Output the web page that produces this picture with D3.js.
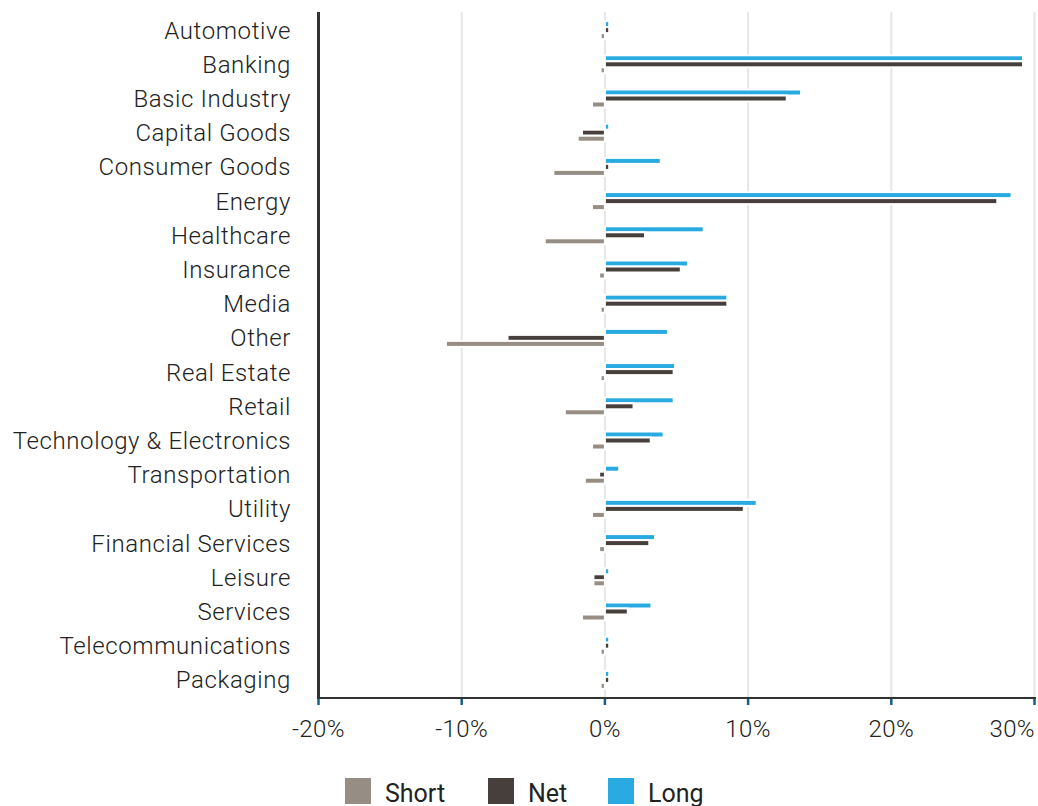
<!DOCTYPE html>
<html>
<head>
<meta charset="utf-8">
<script src="https://cdn.jsdelivr.net/npm/d3@7"></script>
<style>
  html, body { margin: 0; padding: 0; background: #fff; }
  svg { display: block; font-family: Roboto, "Noto Sans", sans-serif; }
</style>
</head>
<body>
<svg id="chart" width="1038" height="806"></svg>
<script>
const categories = ["Automotive","Banking","Basic Industry","Capital Goods","Consumer Goods","Energy","Healthcare","Insurance","Media","Other","Real Estate","Retail","Technology & Electronics","Transportation","Utility","Financial Services","Leisure","Services","Telecommunications","Packaging"];
const longValues  = [0.3, 29.2, 13.7, 0.3, 3.9, 28.4, 6.9, 5.8, 8.55, 4.4, 4.9, 4.8, 4.1, 1.0, 10.6, 3.5, 0.3, 3.25, 0.3, 0.3];
const netValues   = [0.3, 29.2, 12.7, -1.6, 0.3, 27.4, 2.8, 5.3, 8.55, -6.8, 4.8, 2.0, 3.2, -0.4, 9.7, 3.1, -0.8, 1.6, 0.3, 0.3];
const shortValues = [-0.3, -0.3, -0.9, -1.9, -3.6, -0.9, -4.2, -0.4, -0.3, -11.1, -0.3, -2.8, -0.9, -1.4, -0.9, -0.4, -0.8, -1.6, -0.3, -0.3];
const xTicks = [-20, -10, 0, 10, 20, 30];
const seriesNames = ["Short", "Net", "Long"];
const seriesColors = ["#968d84", "#463f3b", "#29abe2"];

const svg = d3.select("#chart");
const x = d3.scaleLinear().domain([-20, 30]).range([318.5, 1034.5]);
const y = d3.scaleBand().domain(categories).range([13, 697]);

// gridlines
svg.append("g").selectAll("line").data(xTicks.filter(d => d !== -20)).join("line")
  .attr("x1", d => x(d)).attr("x2", d => x(d))
  .attr("y1", 12).attr("y2", 697)
  .attr("stroke", "#e6e6e6").attr("stroke-width", 2);

// bars
const series = [
  {name: "Long", values: longValues, color: seriesColors[2], off: -6},
  {name: "Net", values: netValues, color: seriesColors[1], off: 0},
  {name: "Short", values: shortValues, color: seriesColors[0], off: 6}
];
const barH = 6;
series.forEach(s => {
  svg.append("g").selectAll("rect").data(categories).join("rect")
    .attr("x", (c, i) => Math.min(x(0), x(s.values[i])))
    .attr("width", (c, i) => Math.abs(x(s.values[i]) - x(0)))
    .attr("y", c => y(c) + y.bandwidth() / 2 + s.off - barH / 2)
    .attr("height", barH)
    .attr("fill", s.color)
    .attr("stroke", "#fff").attr("stroke-width", 2);
});

// category labels
svg.append("g").selectAll("text").data(categories).join("text")
  .attr("x", 291).attr("y", c => y(c) + y.bandwidth() / 2)
  .attr("dy", "0.35em").attr("text-anchor", "end")
  .attr("font-size", 24).attr("font-weight", 300).attr("letter-spacing", 0.6).attr("fill", "#222")
  .text(c => c);

// axes
svg.append("line").attr("x1", 318.5).attr("x2", 1036).attr("y1", 698).attr("y2", 698)
  .attr("stroke", "#333").attr("stroke-width", 2);
svg.append("g").selectAll("line").data(xTicks).join("line")
  .attr("x1", d => x(d)).attr("x2", d => x(d)).attr("y1", 699).attr("y2", 705)
  .attr("stroke", "#1b5d86").attr("stroke-width", 2.5);
svg.append("line").attr("x1", 318.5).attr("x2", 318.5).attr("y1", 12).attr("y2", 699)
  .attr("stroke", "#333").attr("stroke-width", 3);
svg.append("g").selectAll("text").data(xTicks).join("text")
  .attr("x", (d, i) => i === xTicks.length - 1 ? 1035 : x(d)).attr("y", 729).attr("dy", "0.35em")
  .attr("text-anchor", (d, i) => i === xTicks.length - 1 ? "end" : "middle")
  .attr("font-size", 24).attr("font-weight", 300).attr("letter-spacing", 0.4).attr("fill", "#222")
  .text(d => d + "%");

// legend
const legendX = [345, 488, 608];
const lg = svg.append("g").selectAll("g").data(seriesNames).join("g")
  .attr("transform", (d, i) => `translate(${legendX[i]},778)`);
lg.append("rect").attr("width", 26).attr("height", 26).attr("fill", (d, i) => seriesColors[i]);
lg.append("text").attr("x", 40).attr("y", 14).attr("dy", "0.38em")
  .attr("font-size", 25).attr("fill", "#222").text(d => d);
</script>
</body>
</html>
